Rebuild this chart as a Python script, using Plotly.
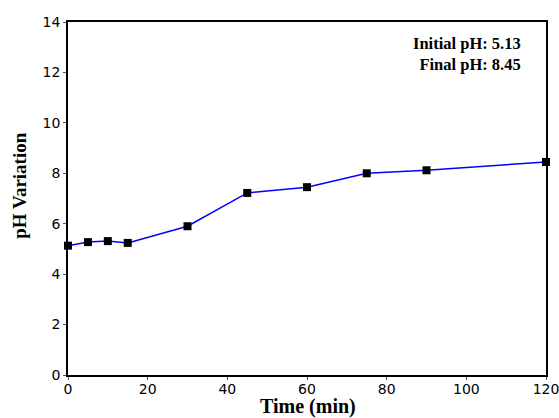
import plotly.graph_objects as go

time_min = [0, 5, 10, 15, 30, 45, 60, 75, 90, 120]
ph_values = [5.13, 5.27, 5.31, 5.24, 5.9, 7.22, 7.45, 8.0, 8.12, 8.45]
x_ticks = [0, 20, 40, 60, 80, 100, 120]
y_ticks = [0, 2, 4, 6, 8, 10, 12, 14]
notes = ["Initial pH: 5.13", "Final pH: 8.45"]
x_title = "Time (min)"
y_title = "pH Variation"

fig = go.Figure()
fig.add_trace(go.Scatter(
    x=time_min, y=ph_values, mode="lines+markers",
    line=dict(color="#0000ff", width=1.5),
    marker=dict(symbol="square", size=8, color="black"),
    cliponaxis=False, showlegend=False,
))

axis_common = dict(
    showgrid=False, zeroline=False, showline=True, linecolor="black", linewidth=1.5,
    mirror=True, ticks="outside", ticklen=3, tickcolor="#555555", tickwidth=1,
    tickfont=dict(family="DejaVu Sans", size=14, color="black"), automargin=False,
    ticklabeloverflow="allow",
)
fig.update_xaxes(range=[0, 120], tickvals=x_ticks, ticklabelstandoff=-3, **axis_common)
fig.update_yaxes(range=[0, 14], tickvals=y_ticks, **axis_common)

# axis titles
fig.add_annotation(
    x=0.502, y=-0.09, xref="paper", yref="paper", xanchor="center", yanchor="middle",
    text="<b>" + x_title + "</b>", showarrow=False,
    font=dict(family="Liberation Serif", size=20, color="black"),
)
fig.add_annotation(
    x=-0.103, y=0.538, xref="paper", yref="paper", xanchor="center", yanchor="middle",
    text="<b>" + y_title + "</b>", showarrow=False, textangle=-90,
    font=dict(family="Liberation Serif", size=19, color="black"),
)

fig.add_annotation(
    x=0.951, y=0.909, xref="paper", yref="paper", xanchor="right", yanchor="middle",
    text="<br>".join("<b>" + t + "</b>" for t in notes), align="right", showarrow=False,
    font=dict(family="Liberation Serif", size=16.5, color="black"),
)

fig.update_layout(
    width=559, height=418, margin=dict(l=68, r=13, t=22, b=43),
    plot_bgcolor="white", paper_bgcolor="white",
)
fig.write_html("out.html")
